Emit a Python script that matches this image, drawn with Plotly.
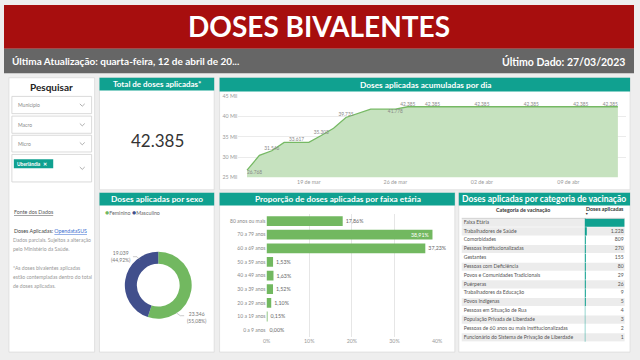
import plotly.graph_objects as go

W, H = 640, 360
FONT = "Lato"

# ---------------- data ----------------
cum_dates = ["2023-03-14", "2023-03-15", "2023-03-16", "2023-03-17", "2023-03-18",
             "2023-03-19", "2023-03-20", "2023-03-21", "2023-03-22", "2023-03-23",
             "2023-03-24", "2023-03-25", "2023-03-26", "2023-03-27", "2023-03-28",
             "2023-03-29", "2023-03-30", "2023-03-31", "2023-04-01", "2023-04-02",
             "2023-04-03", "2023-04-04", "2023-04-05", "2023-04-06", "2023-04-07",
             "2023-04-08", "2023-04-09", "2023-04-10", "2023-04-11", "2023-04-12",
             "2023-04-13"]
cum_values = [26768, 30400, 31546, 33617, 33617, 33617, 35303, 37100, 39735, 40800,
              41778, 41778, 41778, 42385, 42385, 42385, 42385, 42385, 42385, 42385,
              42385, 42385, 42385, 42385, 42385, 42385, 42385, 42385, 42385, 42385,
              42385]
cum_label_idx = [0, 2, 4, 6, 8, 12, 13, 15, 19, 23, 27, 30]
cum_yticks = [25000, 30000, 35000, 40000, 45000]
cum_xticks = ["2023-03-19", "2023-03-26", "2023-04-02", "2023-04-09"]
cum_xticklabels = ["19 de mar", "26 de mar", "02 de abr", "09 de abr"]

sex_labels = ["Feminino", "Masculino"]
sex_values = [23346, 19039]

age_groups = ["80 anos ou mais", "70 a 79 anos", "60 a 69 anos", "50 a 59 anos",
              "40 a 49 anos", "30 a 39 anos", "20 a 29 anos", "10 a 19 anos", "0 a 9 anos"]
age_pct = [17.86, 38.91, 37.23, 1.53, 1.63, 1.52, 1.10, 0.15, 0.00]
age_xticks = [0, 10, 20, 30, 40]

cat_names = ["Faixa Etária", "Trabalhadores de Saúde", "Comorbidades",
             "Pessoas Institucionalizadas", "Gestantes", "Pessoas com Deficiência",
             "Povos e Comunidades Tradicionais", "Puérperas", "Trabalhadores da Educação",
             "Povos Indígenas", "Pessoas em Situação de Rua", "População Privada de Liberdade",
             "Pessoas de 60 anos ou mais institucionalizadas",
             "Funcionário do Sistema de Privação de Liberdade"]
cat_values = [39764, 1228, 809, 270, 155, 80, 29, 26, 9, 5, 4, 3, 2, 1]

total_doses = 42385

# ---------------- helpers ----------------
def X(p):
    return p / W

def Y(p):
    return 1 - p / H

def fmt_int(v):
    return f"{v:,}".replace(",", ".")

def fmt_pct(v):
    return f"{v:.2f}%".replace(".", ",")

TEAL = "#10a190"
GREEN = "#72b860"
NAVY = "#414f8c"

shapes = []
anns = []

def rect(x0, y0, x1, y1, fill, line=None, lw=0):
    shapes.append(dict(type="rect", xref="paper", yref="paper", layer="below",
                       x0=X(x0), x1=X(x1), y0=Y(y1), y1=Y(y0), fillcolor=fill,
                       line=dict(color=line or fill, width=lw)))

def txt(x, y, s, size, color, bold=False, xanchor="left", yanchor="middle", family=FONT):
    anns.append(dict(xref="paper", yref="paper", x=X(x), y=Y(y),
                     text=f"<b>{s}</b>" if bold else s, showarrow=False,
                     xanchor=xanchor, yanchor=yanchor, borderpad=0,
                     font=dict(size=size, color=color, family=family)))

def chevron(x, y):
    shapes.append(dict(type="path", xref="paper", yref="paper",
                       path=f"M {X(x-2.5)},{Y(y-1.2)} L {X(x)},{Y(y+1.2)} L {X(x+2.5)},{Y(y-1.2)}",
                       line=dict(color="#9a9a9a", width=0.8)))

# ---------------- background / header ----------------
rect(0, 2, 640, 46.5, "#a70e0e")
rect(0, 46.5, 640, 71.5, "#666666")
txt(320, 23, "DOSES BIVALENTES", 28, "white", bold=True, xanchor="center")
txt(7, 59, "Última Atualização: quarta-feira, 12 de abril de 20...", 10, "white", bold=True)
txt(632, 59, "Último Dado: 27/03/2023", 10.5, "white", bold=True, xanchor="right")

# panels
panel_border = "#dcdcdc"
rect(5, 76, 92, 355, "white", panel_border, 0.8)
rect(97, 76, 213.5, 190, "white", panel_border, 0.8)
rect(219, 76, 636, 190, "white", panel_border, 0.8)
rect(97, 192.5, 213.5, 355, "white", panel_border, 0.8)
rect(219, 192.5, 458, 355, "white", panel_border, 0.8)
rect(462, 192.5, 636, 355, "white", panel_border, 0.8)

# panel headers
rect(97, 76, 213.5, 89, TEAL)
rect(219, 76, 636, 90, TEAL)
rect(97, 193, 213.5, 206, TEAL)
rect(219, 193, 458, 206, TEAL)
rect(462, 193, 636, 206, TEAL)
txt(155.5, 82.8, "Total de doses aplicadas*", 8, "white", bold=True, xanchor="center")
txt(428, 83.3, "Doses aplicadas acumuladas por dia", 8.3, "white", bold=True, xanchor="center")
txt(155.5, 199.7, "Doses aplicadas por sexo", 8.3, "white", bold=True, xanchor="center")
txt(339, 199.7, "Proporção de doses aplicadas por faixa etária", 8.3, "white", bold=True, xanchor="center")
txt(549, 199.7, "Doses aplicadas por categoria de vacinação", 8.6, "white", bold=True, xanchor="center")

# ---------------- search panel ----------------
txt(48.5, 85.5, "Pesquisar", 10, "#222", bold=True, xanchor="center")
for (y0, y1, label) in [(95, 112.5, "Município"), (115, 132.5, "Macro"), (134.5, 151.5, "Micro")]:
    rect(8, y0, 89, y1, "white", "#d0d0d0", 0.8)
    txt(13, (y0 + y1) / 2, label, 5, "#888")
    chevron(79.5, (y0 + y1) / 2)
rect(8, 154, 89, 182, "white", "#d0d0d0", 0.8)
rect(10, 159, 50, 168, TEAL)
txt(12, 163.5, "Uberlândia  ✕", 4.8, "white", bold=True)
chevron(79.5, 168)

# info text
anns.append(dict(xref="paper", yref="paper", x=X(8), y=Y(213), xanchor="left", yanchor="middle",
                 text="<u>Fonte dos Dados</u>", showarrow=False,
                 font=dict(size=5.3, color="#555", family=FONT)))
anns.append(dict(xref="paper", yref="paper", x=X(8), y=Y(231.5), xanchor="left", yanchor="middle",
                 text="<span style='color:#444'>Doses Aplicadas: </span><span style='color:#3b6fd0'><u>OpendataSUS</u></span>",
                 showarrow=False, font=dict(size=5.3, family=FONT)))
info_lines = [(241.5, "Dados parciais. Sujeitos a alteração"), (250.5, "pelo Ministério da Saúde."),
              (269, "*As doses bivalentes aplicadas"), (278.3, "estão contempladas dentro do total"),
              (287.5, "de doses aplicadas.")]
for y, s in info_lines:
    txt(8, y, s, 5.1, "#999")

# total
txt(155.5, 140, fmt_int(total_doses), 17, "#333", xanchor="center")

# ---------------- cumulative line ----------------
cum_text = [fmt_int(v) if i in cum_label_idx else "" for i, v in enumerate(cum_values)]
cum_pos = ["top center"] * len(cum_values)
cum_pos[0] = "bottom right"
cum_pos[12] = "bottom center"
cum_pos[-1] = "top left"
line_trace = go.Scatter(
    x=cum_dates, y=cum_values, mode="lines+text", fill="tozeroy",
    fillcolor="#c6e2bf", line=dict(color="#76b964", width=1.3),
    text=cum_text, textposition=cum_pos, cliponaxis=False,
    textfont=dict(size=4.8, color="#888", family=FONT),
    xaxis="x", yaxis="y", hoverinfo="skip", showlegend=False)

# ---------------- donut ----------------
sex_total = sum(sex_values)
pie = go.Pie(labels=sex_labels, values=sex_values, hole=0.64, sort=False,
             direction="clockwise", rotation=0, textinfo="none",
             marker=dict(colors=[GREEN, NAVY], line=dict(width=0)),
             domain=dict(x=[X(122.7), X(190.7)], y=[Y(321), Y(253)]), showlegend=False)
anns.append(dict(xref="paper", yref="paper", x=X(101), y=Y(213), xanchor="left", yanchor="middle",
                 showarrow=False,
                 text=(f"<span style='color:{GREEN};font-size:7px'>●</span>{sex_labels[0]} "
                       f"<span style='color:{NAVY};font-size:7px'>●</span>{sex_labels[1]}"),
                 font=dict(size=5.3, color="#666", family=FONT)))
pct = [v / sex_total * 100 for v in sex_values]
anns.append(dict(xref="paper", yref="paper", x=X(131), y=Y(258), xanchor="right", yanchor="middle",
                 showarrow=False, align="center",
                 text=f"{fmt_int(sex_values[1])}<br>({fmt_pct(pct[1])})",
                 font=dict(size=5, color="#777", family=FONT)))
anns.append(dict(xref="paper", yref="paper", x=X(184), y=Y(320), xanchor="left", yanchor="middle",
                 showarrow=False, align="center",
                 text=f"{fmt_int(sex_values[0])}<br>({fmt_pct(pct[0])})",
                 font=dict(size=5, color="#777", family=FONT)))
shapes.append(dict(type="path", xref="paper", yref="paper",
                   path=f"M {X(131)},{Y(258)} L {X(135)},{Y(258)} L {X(138)},{Y(261)}",
                   line=dict(color="#aaa", width=0.6)))
shapes.append(dict(type="path", xref="paper", yref="paper",
                   path=f"M {X(175)},{Y(315)} L {X(179)},{Y(318)} L {X(183)},{Y(318)}",
                   line=dict(color="#aaa", width=0.6)))

# ---------------- age bars ----------------
age_text = [fmt_pct(v) for v in age_pct]
age_pos = ["outside"] * len(age_pct)
age_pos[1] = "inside"
bars = go.Bar(
    y=age_groups, x=age_pct, orientation="h", marker=dict(color=GREEN, line=dict(width=0)),
    text=age_text, textposition=age_pos, insidetextanchor="end", cliponaxis=False,
    textangle=0, constraintext="none",
    textfont=dict(size=5.3, family=FONT),
    insidetextfont=dict(size=5.3, color="white", family=FONT),
    outsidetextfont=dict(size=5.3, color="#666", family=FONT),
    xaxis="x2", yaxis="y2", hoverinfo="skip", showlegend=False)

# ---------------- table ----------------
n = len(cat_names)
rows = list(range(n))
for i in rows:
    if i == 0 or i % 2 == 1:
        shapes.append(dict(type="rect", xref="paper", yref="y3", layer="below",
                           x0=X(465), x1=X(630.5), y0=i - 0.46, y1=i + 0.46,
                           fillcolor="#ececec", line=dict(width=0)))
shapes.append(dict(type="line", xref="paper", yref="paper", x0=X(465), x1=X(630.5),
                   y0=Y(219), y1=Y(219), line=dict(color="#c8c8c8", width=0.8)))
shapes.append(dict(type="line", xref="x4", yref="y4 domain", x0=0, x1=0, y0=0, y1=1,
                   line=dict(color=TEAL, width=1)))
txt(527, 210.5, "Categoria de vacinação", 5.3, "#333", bold=True, xanchor="center")
txt(611, 209.7, "Doses aplicadas", 5.3, "#333", bold=True, xanchor="center")
txt(592, 215, "▼", 3.5, "#333", xanchor="center")

data_bars = go.Bar(x=cat_values, y=rows, orientation="h", width=0.92,
                   marker=dict(color=TEAL, line=dict(width=0)),
                   xaxis="x4", yaxis="y4", hoverinfo="skip", showlegend=False)
names_trace = go.Scatter(x=[0.0] * n, y=rows, mode="text", text=cat_names,
                         textposition="middle right", cliponaxis=False,
                         textfont=dict(size=5.1, color="#555", family=FONT),
                         xaxis="x3", yaxis="y3", hoverinfo="skip", showlegend=False)
vals_trace = go.Scatter(x=[1.0] * n, y=rows, mode="text", text=[fmt_int(v) for v in cat_values],
                        textposition="middle left", cliponaxis=False,
                        textfont=dict(size=5.1, color="#555", family=FONT),
                        xaxis="x3", yaxis="y3", hoverinfo="skip", showlegend=False)

fig = go.Figure([line_trace, pie, bars, data_bars, names_trace, vals_trace])

tick_font = dict(size=5.3, color="#999", family=FONT)
hidden = dict(visible=False, showgrid=False, zeroline=False)
fig.update_layout(
    width=W, height=H, margin=dict(l=0, r=0, t=0, b=0),
    paper_bgcolor="#eeeeee", plot_bgcolor="rgba(0,0,0,0)",
    separators=",.", bargap=0.28, showlegend=False,
    uniformtext=dict(minsize=5.3, mode="show"),
    font=dict(family=FONT),
    shapes=shapes, annotations=anns,
    xaxis=dict(domain=[X(238), X(632)], type="date",
               range=["2023-03-13 07:00", "2023-04-13 16:00"],
               tickvals=cum_xticks, ticktext=cum_xticklabels, tickfont=tick_font,
               showgrid=False, zeroline=False, showline=False, ticks=""),
    yaxis=dict(domain=[Y(177.3), Y(94.7)], range=[cum_yticks[0], cum_yticks[-1]],
               tickvals=cum_yticks, ticktext=[f"{v // 1000} Mil" for v in cum_yticks],
               tickfont=tick_font, gridcolor="#ebebeb", gridwidth=0.8, zeroline=False,
               showline=False, ticks=""),
    xaxis2=dict(domain=[X(266.7), X(440)], range=[age_xticks[0], age_xticks[-1]],
                tickvals=age_xticks, ticktext=[f"{v}%" for v in age_xticks], tickfont=tick_font,
                gridcolor="#e6e6e6", gridwidth=0.8, zeroline=False, showline=False, ticks="",
                anchor="y2"),
    yaxis2=dict(domain=[Y(339.6), Y(214.8)], autorange="reversed",
                tickfont=dict(size=5, color="#888", family=FONT),
                showgrid=False, zeroline=False, showline=False, ticks="", anchor="x2"),
    xaxis3=dict(domain=[X(467), X(629.5)], range=[0, 1], anchor="y3", **hidden),
    yaxis3=dict(domain=[Y(344.5), Y(218.8)], range=[n - 0.5, -0.5], anchor="x3", **hidden),
    xaxis4=dict(domain=[X(590), X(630.5)], range=[0, max(cat_values)], anchor="y4", **hidden),
    yaxis4=dict(domain=[Y(344.5), Y(218.8)], range=[n - 0.5, -0.5], anchor="x4", **hidden),
)

fig.write_html("out.html", config={"displayModeBar": False},
               post_script="document.body.style.margin='0';document.body.style.overflow='hidden';")
